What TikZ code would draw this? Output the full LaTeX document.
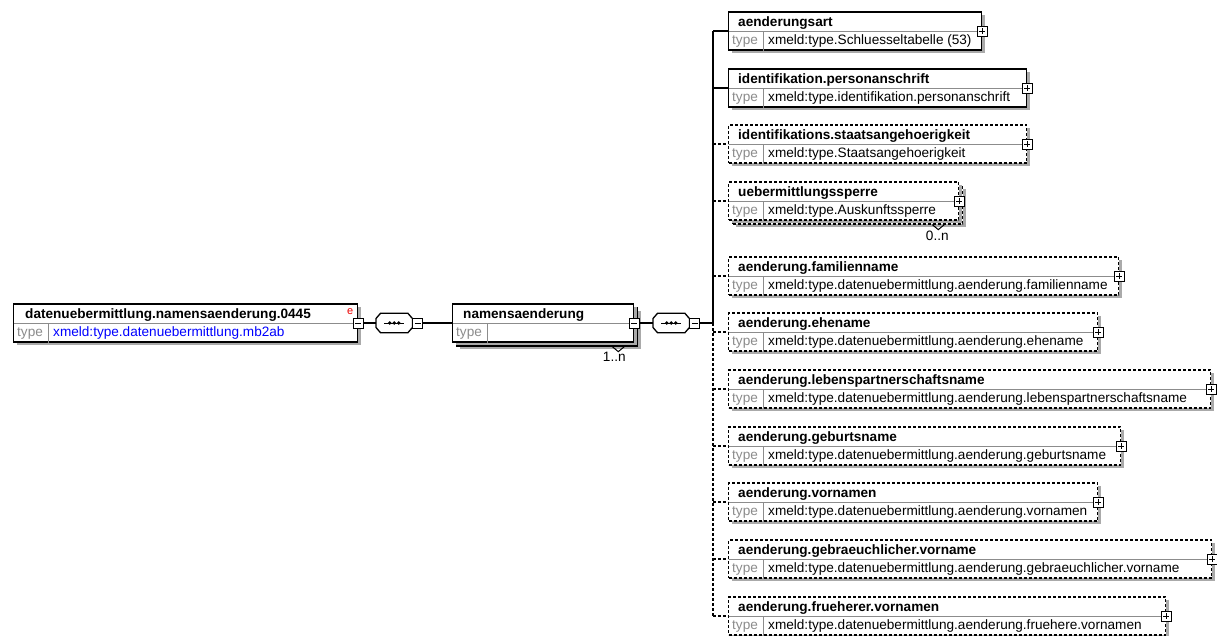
\documentclass[tikz,border=0pt]{standalone}
\usepackage{fontspec}
\setmainfont{Liberation Sans}
\usetikzlibrary{positioning,calc,shadows}
\definecolor{typegray}{RGB}{140,140,140}
\definecolor{shadegray}{RGB}{170,170,170}
\definecolor{xsdblue}{RGB}{0,0,255}
\definecolor{xsdred}{RGB}{235,0,0}

\tikzset{
  elem/.style={draw,line width=1.3pt,fill=white,inner sep=0pt,minimum height=38pt,anchor=west,
    drop shadow={shadow xshift=3pt,shadow yshift=-3pt,fill=shadegray,opacity=1}},
  optelem/.style={elem,dash pattern=on 3pt off 2pt},
  conn/.style={line width=1.3pt},
  optconn/.style={conn,dash pattern=on 3pt off 2pt},
  pmbox/.style={draw,fill=white,line width=1pt,minimum size=10pt,inner sep=0pt},
  plusbox/.style={pmbox,path picture={
    \draw[line width=1pt] ([xshift=2pt]path picture bounding box.west) -- ([xshift=-2pt]path picture bounding box.east)
      ([yshift=-2pt]path picture bounding box.north) -- ([yshift=2pt]path picture bounding box.south);}},
  minusbox/.style={pmbox,path picture={
    \draw[line width=1pt] ([xshift=2pt]path picture bounding box.west) -- ([xshift=-2pt]path picture bounding box.east);}},
  seqbox/.style={inner sep=0pt,minimum width=36pt,minimum height=19pt,anchor=west}
}

\begin{document}
\begin{tikzpicture}[x=1pt,y=-1pt,
  txt/.style={inner sep=0pt,anchor=base west,font=\fontsize{13.6}{16}\selectfont},
  ttl/.style={txt,font=\fontsize{13.6}{16}\selectfont\bfseries},
  typ/.style={txt,text=typegray},
  sepline/.style={draw=typegray,line width=0.8pt}]
\useasboundingbox (0,0) rectangle (1217,635);

% root element
\node[elem,minimum width=344pt] (root) at (13,323) {};
\draw[sepline] ($(root.west)+(0.6,0)$) -- ($(root.east)+(-0.6,0)$);
\draw[sepline] ($(root.west)+(35,0)$) -- ($(root.south west)+(35,0)$);
\node[ttl] (root-t) at ($(root.west)+(12,-5)$) {datenuebermittlung.namensaenderung.0445};
\node[typ] (root-ty) at ($(root.west)+(4,13)$) {type};
\node[txt,text=xsdblue] (root-v) at ($(root.west)+(40,13)$) {xmeld:type.datenuebermittlung.mb2ab};
\node[txt,anchor=base,text=xsdred,font=\fontsize{11}{12}\selectfont] (root-e) at ($(root.east)+(-8,-9)$) {e};
\node[minusbox] (root-m) at (root.east) {};

% sequence compositors
\foreach \sq/\sx in {seqA/376,seqB/653}{
  \node[seqbox] (\sq) at (\sx,323) {};
  \fill[shadegray,shift={(2,2)}] ($(\sq.west)+(0,-4.5)$) -- ($(\sq.north west)+(4.5,0)$) -- ($(\sq.north east)+(-4.5,0)$)
    -- ($(\sq.east)+(0,-4.5)$) -- ($(\sq.east)+(0,4.5)$) -- ($(\sq.south east)+(-4.5,0)$)
    -- ($(\sq.south west)+(4.5,0)$) -- ($(\sq.west)+(0,4.5)$) -- cycle;
  \draw[line width=1.3pt,fill=white] ($(\sq.west)+(0,-4.5)$) -- ($(\sq.north west)+(4.5,0)$) -- ($(\sq.north east)+(-4.5,0)$)
    -- ($(\sq.east)+(0,-4.5)$) -- ($(\sq.east)+(0,4.5)$) -- ($(\sq.south east)+(-4.5,0)$)
    -- ($(\sq.south west)+(4.5,0)$) -- ($(\sq.west)+(0,4.5)$) -- cycle;
  \draw[line width=1pt] ($(\sq.center)+(-10,0)$) -- ($(\sq.center)+(10,0)$);
  \foreach \dx in {-4.5,0,4.5} \fill ($(\sq.center)+(\dx,0)$) circle (1.9);
  \node[minusbox,anchor=west] (\sq-m) at (\sq.east) {};
}
\draw[conn] (root-m) -- (seqA);

% namensaenderung (1..n)
\node[elem,minimum width=181pt] (namBack) at (456,327) {};
\node[elem,minimum width=181pt] (nam) at (452,323) {};
\draw[sepline] ($(nam.west)+(0.6,0)$) -- ($(nam.east)+(-0.6,0)$);
\draw[sepline] ($(nam.west)+(35,0)$) -- ($(nam.south west)+(35,0)$);
\node[ttl] (nam-t) at ($(nam.west)+(11,-5)$) {namensaenderung};
\node[typ] (nam-ty) at ($(nam.west)+(4,13)$) {type};
\node[minusbox] (nam-m) at (nam.east) {};
\draw[line width=1pt] ($(namBack.south east)+(-26,0)$) -- ++(6,5) -- ++(6,-5);
\node[txt,anchor=base] (nam-n) at ($(namBack.south east)+(-24,15)$) {1..n};
\draw[conn] (seqA-m) -- (nam);
\draw[conn] (nam-m) -- (seqB);
\coordinate (trunk) at (713,323);
\draw[conn] (seqB-m) -- (trunk);

% uebermittlungssperre (0..n), back sheet
\node[optelem,minimum width=230pt] (sperreBack) at (732,205) {};

% children of the sequence
\foreach \id/\sy/\bw/\ttl/\typ/\st/\cn in {
  art/31/253/aenderungsart/{xmeld:type.Schluesseltabelle (53)}/elem/conn,
  anschr/88/298/identifikation.personanschrift/xmeld:type.identifikation.personanschrift/elem/conn,
  staat/144/298/identifikations.staatsangehoerigkeit/xmeld:type.Staatsangehoerigkeit/optelem/optconn,
  sperre/201/230/uebermittlungssperre/xmeld:type.Auskunftssperre/optelem/optconn,
  famname/276/390/aenderung.familienname/xmeld:type.datenuebermittlung.aenderung.familienname/optelem/optconn,
  ehename/332/369/aenderung.ehename/xmeld:type.datenuebermittlung.aenderung.ehename/optelem/optconn,
  lpname/389/482/aenderung.lebenspartnerschaftsname/xmeld:type.datenuebermittlung.aenderung.lebenspartnerschaftsname/optelem/optconn,
  gebname/446/392/aenderung.geburtsname/xmeld:type.datenuebermittlung.aenderung.geburtsname/optelem/optconn,
  vornamen/502/369/aenderung.vornamen/xmeld:type.datenuebermittlung.aenderung.vornamen/optelem/optconn,
  rufname/559/483/aenderung.gebraeuchlicher.vorname/xmeld:type.datenuebermittlung.aenderung.gebraeuchlicher.vorname/optelem/optconn,
  frvornamen/616/437/aenderung.frueherer.vornamen/xmeld:type.datenuebermittlung.aenderung.fruehere.vornamen/optelem/optconn}{
  \node[\st,minimum width=\bw pt] (\id) at (728,\sy) {};
  \draw[sepline] ($(\id.west)+(0.6,0)$) -- ($(\id.east)+(-0.6,0)$);
  \draw[sepline] ($(\id.west)+(35,0)$) -- ($(\id.south west)+(35,0)$);
  \node[ttl] (\id-t) at ($(\id.west)+(10,-5)$) {\ttl};
  \node[typ] (\id-ty) at ($(\id.west)+(4,13)$) {type};
  \node[txt] (\id-v) at ($(\id.west)+(40,13)$) {\typ};
  \node[plusbox] (\id-p) at (\id.east) {};
  \draw[\cn] (trunk |- \id.west) -- (\id.west);
}
\draw[line width=1pt] ($(sperreBack.south east)+(-31,0)$) -- ++(6,5) -- ++(6,-5);
\node[txt,anchor=base] (sperre-n) at ($(sperreBack.south east)+(-26,16)$) {0..n};

% trunk
\draw[conn] (trunk |- art.west) -- (trunk);
\draw[optconn] (trunk) -- (trunk |- frvornamen.west);
\end{tikzpicture}
\end{document}
